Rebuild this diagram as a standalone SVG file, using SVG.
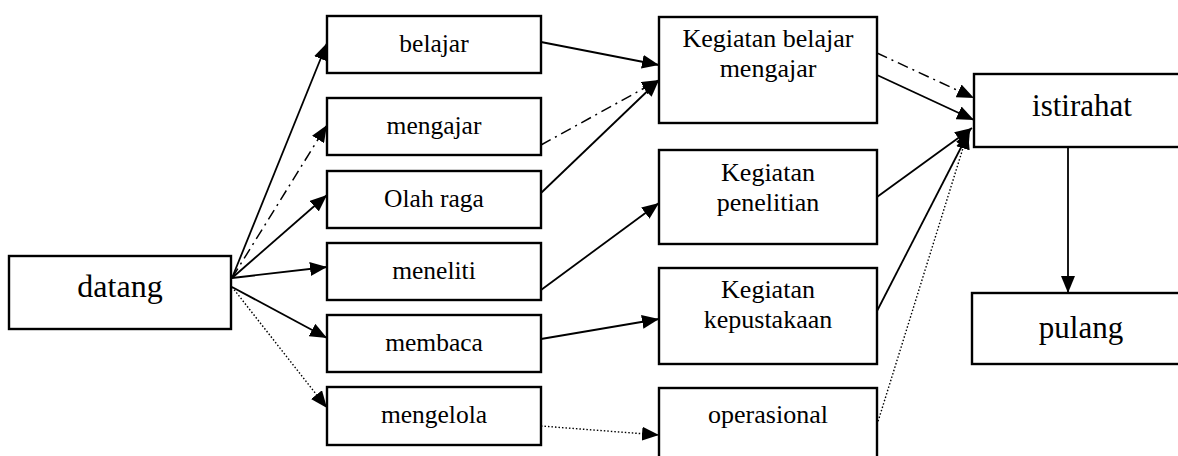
<svg xmlns="http://www.w3.org/2000/svg" width="1178" height="456" viewBox="0 0 1178 456">
<defs>
<marker id="ah" markerUnits="userSpaceOnUse" markerWidth="18" markerHeight="14" refX="17" refY="7" orient="auto">
<path d="M0,0 L17,7 L0,14 z" fill="#000"/>
</marker>
<style>
.box{fill:#fff;stroke:#000;stroke-width:2.4}
.t{font-family:"Liberation Serif","Times New Roman",serif;fill:#000;text-anchor:middle}
.s{font-size:25.5px}
.m{font-size:26px}
.l{font-size:32px}
.c{fill:none;stroke:#000;stroke-width:1.8;marker-end:url(#ah)}
.dd{stroke-dasharray:11 5 2 5;stroke-width:1.5}
.dot{stroke-dasharray:1.5 2;stroke-width:1.4}
</style>
</defs>
<rect width="1178" height="456" fill="#fff"/>
<g id="connectors">
<line class="c" x1="232" y1="278" x2="327" y2="43"/>
<line class="c dd" x1="232" y1="278" x2="327" y2="125"/>
<line class="c" x1="232" y1="278" x2="327" y2="195"/>
<line class="c" x1="232" y1="278" x2="327" y2="267"/>
<line class="c" x1="232" y1="287" x2="327" y2="338"/>
<line class="c dot" x1="232" y1="287" x2="327" y2="408"/>
<line class="c" x1="541" y1="42" x2="659" y2="65"/>
<line class="c dd" x1="541" y1="145" x2="659" y2="80"/>
<line class="c" x1="541" y1="193" x2="659" y2="80"/>
<line class="c" x1="541" y1="290" x2="659" y2="203"/>
<line class="c" x1="541" y1="339" x2="659" y2="319"/>
<line class="c dot" x1="541" y1="426" x2="659" y2="435"/>
<line class="c dd" x1="877" y1="53" x2="974" y2="98"/>
<line class="c" x1="877" y1="75" x2="974" y2="120"/>
<line class="c" x1="877" y1="197" x2="972" y2="128"/>
<line class="c" x1="876" y1="313" x2="970" y2="130"/>
<line class="c dot" x1="876" y1="428" x2="968" y2="132"/>
<line class="c" x1="1068" y1="147" x2="1068" y2="293"/>
</g>
<g id="datang"><rect class="box" x="9" y="256" width="222" height="73"/><text class="t l" x="120" y="297">datang</text></g>
<g id="belajar"><rect class="box" x="327" y="16" width="214" height="57"/><text class="t s" x="434" y="52">belajar</text></g>
<g id="mengajar"><rect class="box" x="327" y="98" width="214" height="57"/><text class="t s" x="434" y="134">mengajar</text></g>
<g id="olahraga"><rect class="box" x="327" y="171" width="214" height="57"/><text class="t s" x="434" y="207">Olah raga</text></g>
<g id="meneliti"><rect class="box" x="327" y="243" width="214" height="57"/><text class="t s" x="434" y="279">meneliti</text></g>
<g id="membaca"><rect class="box" x="327" y="315" width="214" height="57"/><text class="t s" x="434" y="351">membaca</text></g>
<g id="mengelola"><rect class="box" x="327" y="387" width="214" height="58"/><text class="t s" x="434" y="423">mengelola</text></g>
<g id="kbm"><rect class="box" x="659" y="17" width="218" height="106"/><text class="t m" x="768" y="47">Kegiatan belajar</text><text class="t m" x="768" y="77">mengajar</text></g>
<g id="penelitian"><rect class="box" x="659" y="150" width="218" height="94"/><text class="t m" x="768" y="181">Kegiatan</text><text class="t m" x="768" y="211">penelitian</text></g>
<g id="kepustakaan"><rect class="box" x="659" y="268" width="218" height="96"/><text class="t m" x="768" y="298">Kegiatan</text><text class="t m" x="768" y="328">kepustakaan</text></g>
<g id="operasional"><rect class="box" x="659" y="388" width="218" height="80"/><text class="t m" x="768" y="423">operasional</text></g>
<g id="istirahat"><rect class="box" x="974" y="74" width="220" height="73"/><text class="t l" x="1082" y="116" style="font-size:31px">istirahat</text></g>
<g id="pulang"><rect class="box" x="972" y="293" width="222" height="71"/><text class="t l" x="1081" y="338" style="font-size:31px">pulang</text></g>
</svg>
